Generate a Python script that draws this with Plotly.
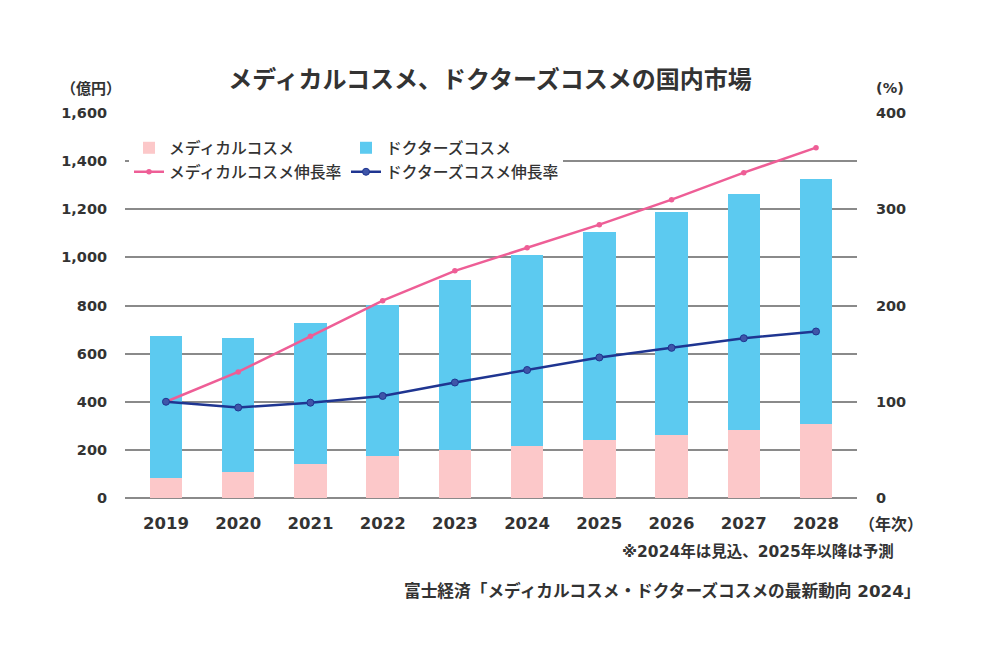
import plotly.graph_objects as go

years = ["2019", "2020", "2021", "2022", "2023", "2024", "2025", "2026", "2027", "2028"]
medical = [85, 110, 140, 175, 200, 218, 240, 263, 284, 309]
doctors = [587, 554, 586, 627, 705, 792, 864, 926, 980, 1017]
medical_growth = [100, 131, 168, 205, 236, 260, 284, 310, 338, 364]
doctors_growth = [100, 94, 99, 106, 120, 133, 146, 156, 166, 173]

FONT = "DejaVu Sans, Noto Sans CJK JP"
JP = "Noto Sans CJK JP"
TXT = "#333333"

fig = go.Figure()
fig.add_trace(go.Bar(x=years, y=medical, name="メディカルコスメ", marker_color="#FCC8C9",
                     marker_line_width=0, legend="legend"))
fig.add_trace(go.Bar(x=years, y=doctors, name="ドクターズコスメ", marker_color="#5CCAF0",
                     marker_line_width=0, legend="legend"))
fig.add_trace(go.Scatter(x=years, y=medical_growth, name="メディカルコスメ伸長率", yaxis="y2",
                         mode="lines+markers", line=dict(color="#EE5E96", width=2.5),
                         marker=dict(size=5.5, color="#EE5E96"), legend="legend2"))
fig.add_trace(go.Scatter(x=years, y=doctors_growth, name="ドクターズコスメ伸長率", yaxis="y2",
                         mode="lines+markers", line=dict(color="#1F3591", width=2.5),
                         marker=dict(size=7, color="#3F55A8", line=dict(color="#1F3591", width=1)),
                         legend="legend2"))

W, H = 1000, 670
L, R, T, B = 125, 143, 113, 172
pw, ph = W - L - R, H - T - B

def px(x):
    return (x - L) / pw

def py(y):
    return (H - B - y) / ph

legend_common = dict(orientation="h", bgcolor="white",
                     font=dict(family=JP, size=15.8, color=TXT, weight=500),
                     entrywidth=172, entrywidthmode="pixels", xanchor="left", yanchor="middle",
                     itemclick=False, traceorder="normal")

numfont = dict(family=FONT, size=14.5, color=TXT, weight="bold")

fig.update_layout(
    width=W, height=H,
    margin=dict(l=L, r=R, t=T, b=B, autoexpand=False),
    paper_bgcolor="white", plot_bgcolor="white",
    barmode="stack", bargap=0.55,
    font=dict(family=FONT, color=TXT),
    title=dict(text="<b>メディカルコスメ、ドクターズコスメの国内市場</b>", x=0.49, xanchor="center",
               y=1 - 80 / H, yanchor="middle", font=dict(family=JP, size=24, color=TXT)),
    xaxis=dict(showgrid=False, showline=False, ticks="outside", ticklen=10, tickcolor="rgba(0,0,0,0)",
               automargin=False,
               tickfont=dict(family=FONT, size=16.5, color=TXT, weight="bold")),
    yaxis=dict(range=[0, 1600], dtick=200, tickformat=",d", showgrid=True, gridcolor="#8a8a8a",
               gridwidth=1.5, zeroline=True, zerolinecolor="#8a8a8a", zerolinewidth=1.5, showline=False,
               ticks="outside", ticklen=14, tickcolor="rgba(0,0,0,0)", automargin=False,
               tickfont=numfont),
    yaxis2=dict(range=[0, 400], dtick=100, overlaying="y", side="right", showgrid=False,
                zeroline=False, showline=False, ticks="outside", ticklen=15, tickcolor="rgba(0,0,0,0)",
                automargin=False, tickfont=numfont),
    legend=dict(x=px(129), y=py(148), **legend_common),
    legend2=dict(x=px(129), y=py(172), **legend_common),
    hovermode=False,
)

ann = dict(xref="paper", yref="paper", showarrow=False)
fig.add_annotation(text="<b>（億円）</b>", x=px(91), y=py(87), xanchor="center", yanchor="middle",
                   font=dict(family=JP, size=15, color=TXT), **ann)
fig.add_annotation(text="<b>(%)</b>", x=px(890), y=py(88), xanchor="center", yanchor="middle",
                   font=dict(family=FONT, size=14.5, color=TXT), **ann)
fig.add_annotation(text="<b>（年次）</b>", x=px(891), y=py(523), xanchor="center", yanchor="middle",
                   font=dict(family=JP, size=16, color=TXT), **ann)
fig.add_annotation(text="<b>※2024年は見込、2025年以降は予測</b>", x=px(896), y=py(551), xanchor="right",
                   yanchor="middle", font=dict(family=FONT, size=15.5, color=TXT), **ann)
fig.add_annotation(text="<b>富士経済「メディカルコスメ・ドクターズコスメの最新動向 2024」</b>", x=px(923), y=py(591),
                   xanchor="right", yanchor="middle", font=dict(family=FONT, size=16.7, color=TXT), **ann)

fig.write_html("out.html", config={"displayModeBar": False},
               post_script="document.body.style.margin='0';")
